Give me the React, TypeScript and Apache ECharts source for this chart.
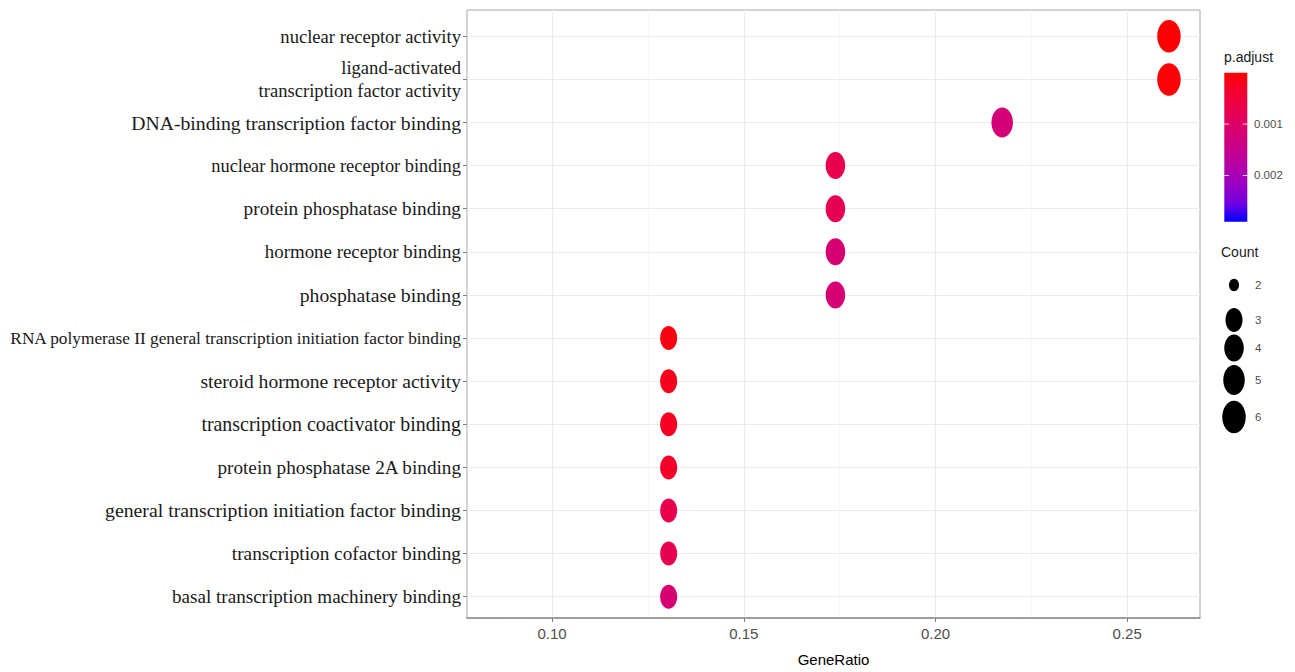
import React, { useEffect, useRef } from "react";
import * as echarts from "echarts";

// ---------- data ----------
const CATEGORIES = [
  "nuclear receptor activity",
  "ligand-activated\ntranscription factor activity",
  "DNA-binding transcription factor binding",
  "nuclear hormone receptor binding",
  "protein phosphatase binding",
  "hormone receptor binding",
  "phosphatase binding",
  "RNA polymerase II general transcription initiation factor binding",
  "steroid hormone receptor activity",
  "transcription coactivator binding",
  "protein phosphatase 2A binding",
  "general transcription initiation factor binding",
  "transcription cofactor binding",
  "basal transcription machinery binding",
];
const GENE_RATIO = [
  0.2609, 0.2609, 0.2174, 0.1739, 0.1739, 0.1739, 0.1739, 0.1304, 0.1304,
  0.1304, 0.1304, 0.1304, 0.1304, 0.1304,
];
const COUNTS = [6, 6, 5, 4, 4, 4, 4, 3, 3, 3, 3, 3, 3, 3];
const P_ADJUST = [
  0.00002, 0.00004, 0.00122, 0.00072, 0.00075, 0.00115, 0.00117, 0.00012,
  0.0002, 0.00026, 0.0003, 0.0007, 0.00074, 0.00116,
];
const X_TICKS = [0.1, 0.15, 0.2, 0.25];
const COLORBAR_TICKS = [0.001, 0.002];
const COUNT_LEGEND = [2, 3, 4, 5, 6];

// ---------- scales / styles ----------
const X_MIN = 0.0778;
const X_MAX = 0.269;
const P_MIN = 0;
const P_MAX = 0.0029;
const COLOR_STOPS = [
  "#FF0000",
  "#F40031",
  "#E8004F",
  "#DA006C",
  "#C90089",
  "#B500A6",
  "#9A00C3",
  "#7300E0",
  "#0000FF",
];
const SIZE_W: Record<number, number> = { 2: 10, 3: 17, 4: 19.5, 5: 21.5, 6: 23.5 };
const SIZE_H: Record<number, number> = { 2: 12.5, 3: 24, 4: 27, 5: 30, 6: 32.5 };
const ELLIPSE =
  "path://M0,-1C0.552,-1,1,-0.552,1,0C1,0.552,0.552,1,0,1C-0.552,1,-1,0.552,-1,0C-1,-0.552,-0.552,-1,0,-1Z";
// per-label font sizes (the reference labels are not all the same size)
const LABEL_FONT = [
  18.6, 18.6, 19.7, 18.4, 19.3, 18.9, 19.7, 17.3, 19.6, 19.9, 19.2, 19.8,
  19.3, 19.1,
];

const PANEL = { left: 467, top: 10, width: 733, height: 610 };
const ROWS = { top: 36.3, height: 560.4 };
const CBAR = { x: 1224.3, y: 72.7, w: 23, h: 149 };
const COUNT_KEY_Y = [285, 320, 348, 380, 417];

const SANS = "'Liberation Sans', Arial, sans-serif";
const SERIF = "'Liberation Serif', 'Times New Roman', serif";

export default function App() {
  const ref = useRef<HTMLDivElement>(null);

  useEffect(() => {
    if (!ref.current) return;
    const chart = echarts.init(ref.current, null, { renderer: "svg" });

    const pToY = (p: number) =>
      CBAR.y + ((p - P_MIN) / (P_MAX - P_MIN)) * CBAR.h;

    const graphic: any[] = [
      {
        type: "text",
        left: 1224,
        top: 50,
        style: { text: "p.adjust", font: `14px ${SANS}`, fill: "#1A1A1A" },
      },
      {
        type: "rect",
        shape: { x: CBAR.x, y: CBAR.y, width: CBAR.w, height: CBAR.h },
        style: {
          fill: new echarts.graphic.LinearGradient(
            0,
            0,
            0,
            1,
            COLOR_STOPS.map((c, i) => ({
              offset: i / (COLOR_STOPS.length - 1),
              color: c,
            }))
          ),
        },
      },
      {
        type: "text",
        left: 1221,
        top: 245,
        style: { text: "Count", font: `14px ${SANS}`, fill: "#1A1A1A" },
      },
    ];

    COLORBAR_TICKS.forEach((t) => {
      const y = pToY(t);
      graphic.push(
        {
          type: "line",
          shape: { x1: CBAR.x, y1: y, x2: CBAR.x + 4.6, y2: y },
          style: { stroke: "rgba(255,255,255,0.8)", lineWidth: 1 },
        },
        {
          type: "line",
          shape: { x1: CBAR.x + CBAR.w - 4.6, y1: y, x2: CBAR.x + CBAR.w, y2: y },
          style: { stroke: "rgba(255,255,255,0.8)", lineWidth: 1 },
        },
        {
          type: "text",
          x: 1254,
          y,
          style: {
            text: t.toFixed(3),
            font: `11.5px ${SANS}`,
            fill: "#4D4D4D",
            verticalAlign: "middle",
          },
        }
      );
    });

    COUNT_LEGEND.forEach((c, i) => {
      const cy = COUNT_KEY_Y[i];
      graphic.push(
        {
          type: "ellipse",
          shape: { cx: 1234, cy, rx: SIZE_W[c] / 2, ry: SIZE_H[c] / 2 },
          style: { fill: "#000" },
        },
        {
          type: "text",
          x: 1255,
          y: cy,
          style: {
            text: String(c),
            font: `11.5px ${SANS}`,
            fill: "#4D4D4D",
            verticalAlign: "middle",
          },
        }
      );
    });

    const rich: Record<string, any> = {};
    LABEL_FONT.forEach((fs, i) => {
      rich["s" + i] = {
        fontFamily: SERIF,
        fontSize: fs,
        lineHeight: 23,
        color: "#1A1A1A",
        align: "right",
      };
    });

    const option: any = {
      animation: false,
      backgroundColor: "#FFFFFF",
      grid: [
        {
          left: PANEL.left,
          top: PANEL.top,
          width: PANEL.width,
          height: PANEL.height,
          show: true,
          borderColor: "#A8A8A8",
          borderWidth: 1,
          backgroundColor: "#FFFFFF",
        },
        {
          left: PANEL.left,
          top: ROWS.top,
          width: PANEL.width,
          height: ROWS.height,
        },
      ],
      xAxis: [
        {
          gridIndex: 0,
          type: "value",
          min: X_MIN,
          max: X_MAX,
          splitNumber: 4,
          minInterval: 0.05,
          maxInterval: 0.05,
          axisLine: { show: true, lineStyle: { color: "#8C8C8C", width: 1.5 } },
          axisTick: {
            show: true,
            length: 4,
            customValues: X_TICKS,
            lineStyle: { color: "#7F7F7F" },
          },
          axisLabel: {
            showMinLabel: false,
            showMaxLabel: false,
            margin: 8,
            formatter: (v: number) => v.toFixed(2),
            fontFamily: SANS,
            fontSize: 15,
            color: "#4D4D4D",
          },
          splitLine: { show: true, lineStyle: { color: "#EBEBEB", width: 1.2 } },
          minorTick: { show: false, splitNumber: 2 },
          minorSplitLine: {
            show: true,
            lineStyle: { color: "#F3F3F3", width: 0.8 },
          },
          name: "GeneRatio",
          nameLocation: "middle",
          nameGap: 34,
          nameTextStyle: { fontFamily: SANS, fontSize: 15, color: "#000" },
        },
        {
          gridIndex: 1,
          type: "value",
          min: X_MIN,
          max: X_MAX,
          show: false,
        },
      ],
      yAxis: [
        { gridIndex: 0, type: "value", min: 0, max: 1, show: false },
        {
          gridIndex: 1,
          type: "value",
          min: 0,
          max: CATEGORIES.length - 1,
          interval: 1,
          inverse: true,
          axisLine: { show: false },
          axisTick: { show: true, length: 4, lineStyle: { color: "#7F7F7F" } },
          axisLabel: {
            formatter: (v: number) => {
              const i = Math.round(v);
              const name = CATEGORIES[i];
              if (name == null) return "";
              return name
                .split("\n")
                .map((line) => `{s${i}|${line}}`)
                .join("\n");
            },
            rich,
            fontFamily: SERIF,
            fontSize: 19,
            lineHeight: 23,
            color: "#1A1A1A",
            margin: 6,
          },
          splitLine: { show: true, lineStyle: { color: "#EBEBEB", width: 1.2 } },
        },
      ],
      visualMap: {
        type: "continuous",
        show: false,
        dimension: 3,
        seriesIndex: 0,
        min: P_MIN,
        max: P_MAX,
        inRange: { color: COLOR_STOPS },
      },
      series: [
        {
          type: "scatter",
          xAxisIndex: 1,
          yAxisIndex: 1,
          symbol: ELLIPSE,
          symbolSize: (v: number[]) => [SIZE_W[v[2]], SIZE_H[v[2]]],
          data: CATEGORIES.map((_, i) => [
            GENE_RATIO[i],
            i,
            COUNTS[i],
            P_ADJUST[i],
          ]),
          itemStyle: { opacity: 1 },
          z: 3,
        },
      ],
      graphic,
    };

    chart.setOption(option);
    return () => chart.dispose();
  }, []);

  return (
    <div
      ref={ref}
      style={{ position: "fixed", left: 0, top: 0, width: 1295, height: 672 }}
    />
  );
}
